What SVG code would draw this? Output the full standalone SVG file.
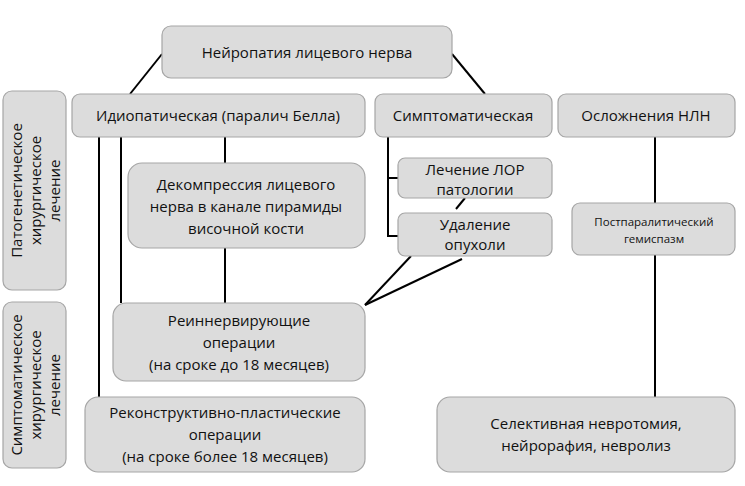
<svg xmlns="http://www.w3.org/2000/svg" width="745" height="486" viewBox="0 0 745 486">
<style>
rect{fill:#dcdcdc;stroke:#a6a6a6;stroke-width:1.2}
text{font-family:"Open Sans","DejaVu Sans",sans-serif;font-size:15px;fill:#111;text-anchor:middle}
.s{font-size:11.5px}
#connectors line{stroke:#000;stroke-width:2}
</style>
<rect x="0" y="0" width="745" height="486" style="fill:#fff;stroke:none"/>
<g id="connectors">
<line x1="162" y1="54" x2="130" y2="94"/>
<line x1="452" y1="54" x2="485" y2="94"/>
<line x1="99" y1="137" x2="99" y2="397"/>
<line x1="121" y1="137" x2="121" y2="303"/>
<line x1="225" y1="137" x2="225" y2="163"/>
<line x1="225" y1="248" x2="225" y2="303"/>
<line x1="388" y1="137" x2="388" y2="237"/>
<line x1="387" y1="178" x2="398" y2="178"/>
<line x1="387" y1="236" x2="398" y2="236"/>
<line x1="465" y1="198" x2="456" y2="209"/>
<line x1="411" y1="256" x2="365" y2="305"/>
<line x1="462" y1="259" x2="365" y2="305"/>
<line x1="655" y1="137" x2="655" y2="203"/>
<line x1="655" y1="255" x2="655" y2="397"/>
</g>
<g id="n-root"><rect x="162" y="26" width="290" height="52" rx="9"/><text x="307" y="58">Нейропатия лицевого нерва</text></g>
<g id="n-idio"><rect x="72" y="94" width="293" height="43" rx="8"/><text x="218" y="121">Идиопатическая (паралич Белла)</text></g>
<g id="n-symp"><rect x="375" y="94" width="177" height="43" rx="8"/><text x="463" y="121">Симптоматическая</text></g>
<g id="n-compl"><rect x="558" y="94" width="177" height="43" rx="8"/><text x="646" y="121">Осложнения НЛН</text></g>
<g id="n-patho"><rect x="3" y="91" width="63" height="199" rx="9"/><text transform="translate(34.5 190.5) rotate(-90)" y="-13"><tspan x="0">Патогенетическое</tspan><tspan x="0" dy="19">хирургическое</tspan><tspan x="0" dy="19">лечение</tspan></text></g>
<g id="n-sympt"><rect x="3" y="302" width="63" height="166" rx="9"/><text transform="translate(34.5 385) rotate(-90)" y="-13"><tspan x="0">Симптоматическое</tspan><tspan x="0" dy="19">хирургическое</tspan><tspan x="0" dy="19">лечение</tspan></text></g>
<g id="n-decomp"><rect x="128" y="163" width="237" height="85" rx="14"/><text x="246" y="190"><tspan x="246">Декомпрессия лицевого</tspan><tspan x="246" dy="22">нерва в канале пирамиды</tspan><tspan x="246" dy="22">височной кости</tspan></text></g>
<g id="n-lor"><rect x="398" y="158" width="154" height="40" rx="7"/><text x="475" y="175"><tspan x="475">Лечение ЛОР</tspan><tspan x="475" dy="20">патологии</tspan></text></g>
<g id="n-tumor"><rect x="398" y="213" width="154" height="43" rx="7"/><text x="475" y="230"><tspan x="475">Удаление</tspan><tspan x="475" dy="20">опухоли</tspan></text></g>
<g id="n-hemi"><rect x="572" y="203" width="163" height="52" rx="8"/><text class="s" x="654" y="226"><tspan x="654">Постпаралитический</tspan><tspan x="654" dy="17">гемиспазм</tspan></text></g>
<g id="n-reinn"><rect x="113" y="303" width="252" height="78" rx="13"/><text x="239" y="326"><tspan x="239">Реиннервирующие</tspan><tspan x="239" dy="22">операции</tspan><tspan x="239" dy="22">(на сроке до 18 месяцев)</tspan></text></g>
<g id="n-recon"><rect x="85" y="397" width="280" height="75" rx="13"/><text x="225" y="418"><tspan x="225">Реконструктивно-пластические</tspan><tspan x="225" dy="22">операции</tspan><tspan x="225" dy="22">(на сроке более 18 месяцев)</tspan></text></g>
<g id="n-select"><rect x="437" y="397" width="298" height="75" rx="13"/><text x="586" y="429"><tspan x="586">Селективная невротомия,</tspan><tspan x="586" dy="22">нейрорафия, невролиз</tspan></text></g>
</svg>
